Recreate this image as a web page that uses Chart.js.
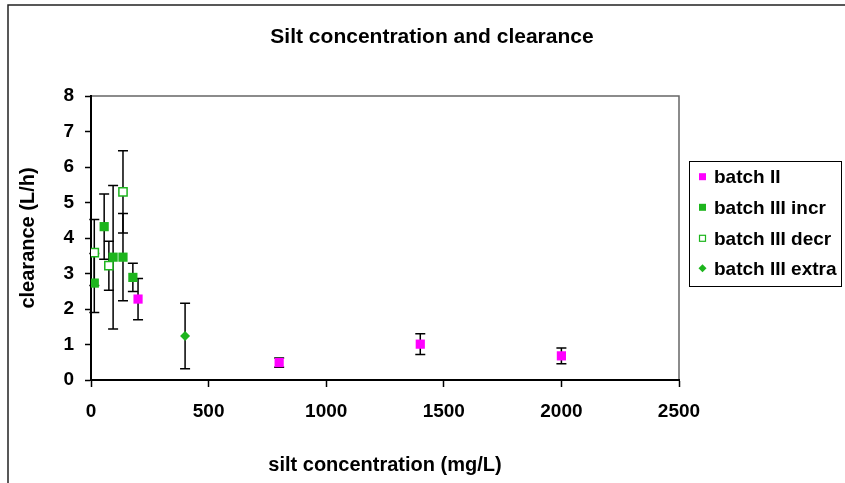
<!DOCTYPE html>
<html><head><meta charset="utf-8">
<script src="https://cdn.jsdelivr.net/npm/chart.js@4.4.0/dist/chart.umd.min.js"></script>
<style>
html,body{margin:0;padding:0;background:#fff;overflow:hidden}
#wrap{position:relative;width:845px;height:483px}
canvas{display:block}
</style></head><body>
<div id="wrap"><canvas id="c" width="845" height="483"></canvas></div>
<script>
const chartTitle = 'Silt concentration and clearance';
const xTitle = 'silt concentration (mg/L)';
const yTitle = 'clearance (L/h)';
const seriesNames = ['batch II', 'batch III incr', 'batch III decr', 'batch III extra'];
const batch2X = [200, 800, 1400, 2000];
const batch2Y = [2.28, 0.49, 1.01, 0.68];
const batch2Err = [0.58, 0.13, 0.29, 0.22];
const incrX = [14, 56, 94, 136, 178];
const incrY = [2.73, 4.32, 3.46, 3.46, 2.89];
const incrErr = [0.83, 0.92, 2.02, 1.23, 0.40];
const decrX = [14, 76, 136];
const decrY = [3.59, 3.22, 5.30];
const decrErr = [0.93, 0.69, 1.16];
const extraX = [400];
const extraY = [1.24];
const extraErr = [0.92];
const xTicks = [0, 500, 1000, 1500, 2000, 2500];
const yTicks = [0, 1, 2, 3, 4, 5, 6, 7, 8];

const FONT = "'Liberation Sans', Arial, sans-serif";
const MAGENTA = '#FF00FF';
const GREEN = '#1DB51D';

function pts(xs, ys) { return xs.map((x, i) => ({x: x, y: ys[i]})); }
const errs = [batch2Err, incrErr, decrErr, extraErr];

const frameAndTitle = {
  id: 'frameAndTitle',
  beforeDraw(chart) {
    const ctx = chart.ctx;
    ctx.save();
    ctx.fillStyle = '#fff';
    ctx.fillRect(0, 0, chart.width, chart.height);
    ctx.strokeStyle = '#222';
    ctx.lineWidth = 1.5;
    ctx.beginPath();
    ctx.moveTo(8, chart.height + 2);
    ctx.lineTo(8, 5);
    ctx.lineTo(chart.width + 2, 5);
    ctx.stroke();
    const a = chart.chartArea;
    ctx.strokeStyle = '#666';
    ctx.lineWidth = 1.5;
    ctx.beginPath();
    ctx.moveTo(a.left, a.top);
    ctx.lineTo(a.right, a.top);
    ctx.lineTo(a.right, a.bottom);
    ctx.stroke();
    ctx.fillStyle = '#000';
    ctx.font = 'bold 21px ' + FONT;
    ctx.textAlign = 'center';
    ctx.textBaseline = 'middle';
    ctx.fillText(chartTitle, 432, 37);
    ctx.restore();
  }
};

const errorBars = {
  id: 'errorBars',
  beforeDatasetsDraw(chart) {
    const ctx = chart.ctx;
    const xs = chart.scales.x, ys = chart.scales.y;
    ctx.save();
    ctx.strokeStyle = '#000';
    ctx.lineWidth = 1.5;
    chart.data.datasets.forEach((ds, di) => {
      const e = errs[di];
      ds.data.forEach((p, i) => {
        const px = xs.getPixelForValue(p.x);
        const pt = ys.getPixelForValue(p.y + e[i]);
        const pb = ys.getPixelForValue(p.y - e[i]);
        ctx.beginPath();
        ctx.moveTo(px, pt); ctx.lineTo(px, pb);
        ctx.moveTo(px - 5, pt); ctx.lineTo(px + 5, pt);
        ctx.moveTo(px - 5, pb); ctx.lineTo(px + 5, pb);
        ctx.stroke();
      });
    });
    ctx.restore();
  }
};

const boxLegend = {
  id: 'boxLegend',
  afterDraw(chart) {
    const ctx = chart.ctx;
    ctx.save();
    ctx.strokeStyle = '#000';
    ctx.lineWidth = 1;
    ctx.strokeRect(689.5, 161.5, 152, 125);
    const rows = [176.7, 207.3, 238.3, 268.3];
    chart.data.datasets.forEach((ds, i) => {
      const cx = 702.5, cy = rows[i];
      if (ds.pointStyle === 'rectRot') {
        ctx.fillStyle = ds.pointBackgroundColor;
        ctx.beginPath();
        ctx.moveTo(cx, cy - 4); ctx.lineTo(cx + 4, cy); ctx.lineTo(cx, cy + 4); ctx.lineTo(cx - 4, cy);
        ctx.closePath(); ctx.fill();
      } else {
        ctx.fillStyle = ds.pointBackgroundColor;
        ctx.fillRect(cx - 3.5, cy - 3.5, 7, 7);
        if (ds.pointBackgroundColor === '#ffffff') {
          ctx.strokeStyle = ds.pointBorderColor;
          ctx.lineWidth = 1.2;
          ctx.strokeRect(cx - 3, cy - 3, 6, 6);
        }
      }
      ctx.fillStyle = '#000';
      ctx.font = 'bold 19px ' + FONT;
      ctx.textAlign = 'left';
      ctx.textBaseline = 'middle';
      ctx.fillText(ds.label, 714, cy + 1);
    });
    ctx.restore();
  }
};

const tickFont = {family: FONT, size: 19, weight: 'bold'};

new Chart(document.getElementById('c'), {
  type: 'scatter',
  data: {
    datasets: [
      {label: seriesNames[0], data: pts(batch2X, batch2Y), pointStyle: 'rect', pointRadius: 6.5, pointHoverRadius: 6.5,
       pointBackgroundColor: MAGENTA, pointBorderColor: MAGENTA, pointBorderWidth: 0},
      {label: seriesNames[1], data: pts(incrX, incrY), pointStyle: 'rect', pointRadius: 6.5, pointHoverRadius: 6.5,
       pointBackgroundColor: GREEN, pointBorderColor: GREEN, pointBorderWidth: 0},
      {label: seriesNames[2], data: pts(decrX, decrY), pointStyle: 'rect', pointRadius: 5.8, pointHoverRadius: 5.8,
       pointBackgroundColor: '#ffffff', pointBorderColor: GREEN, pointBorderWidth: 1.5},
      {label: seriesNames[3], data: pts(extraX, extraY), pointStyle: 'rectRot', pointRadius: 5, pointHoverRadius: 5,
       pointBackgroundColor: GREEN, pointBorderColor: GREEN, pointBorderWidth: 0}
    ]
  },
  options: {
    responsive: false,
    animation: false,
    devicePixelRatio: 1,
    layout: {padding: {left: 0, top: 96, right: 166, bottom: 0}},
    plugins: {legend: {display: false}, tooltip: {enabled: false}, title: {display: false}},
    scales: {
      x: {
        type: 'linear', min: 0, max: 2500,
        afterBuildTicks: s => { s.ticks = xTicks.map(v => ({value: v})); },
        afterFit: s => { s.height = 103; },
        grid: {drawOnChartArea: false, drawTicks: true, tickLength: 7, tickColor: '#000', tickWidth: 1.5},
        border: {display: true, color: '#000', width: 2},
        ticks: {font: tickFont, color: '#000', padding: 13, maxRotation: 0, callback: v => String(v)},
        title: {display: true, text: xTitle, color: '#000', font: {family: FONT, size: 20, weight: 'bold'}, padding: {top: 0, bottom: 6}}
      },
      y: {
        type: 'linear', min: 0, max: 8,
        afterBuildTicks: s => { s.ticks = yTicks.map(v => ({value: v})); },
        afterFit: s => { s.width = 91; },
        grid: {drawOnChartArea: false, drawTicks: true, tickLength: 6, tickColor: '#000', tickWidth: 1.5},
        border: {display: true, color: '#000', width: 2},
        ticks: {font: tickFont, color: '#000', padding: 11, callback: v => String(v)},
        title: {display: true, text: yTitle, color: '#000', font: {family: FONT, size: 20, weight: 'bold'}, padding: {top: 16, bottom: 0}}
      }
    }
  },
  plugins: [frameAndTitle, errorBars, boxLegend]
});
</script>
</body></html>
